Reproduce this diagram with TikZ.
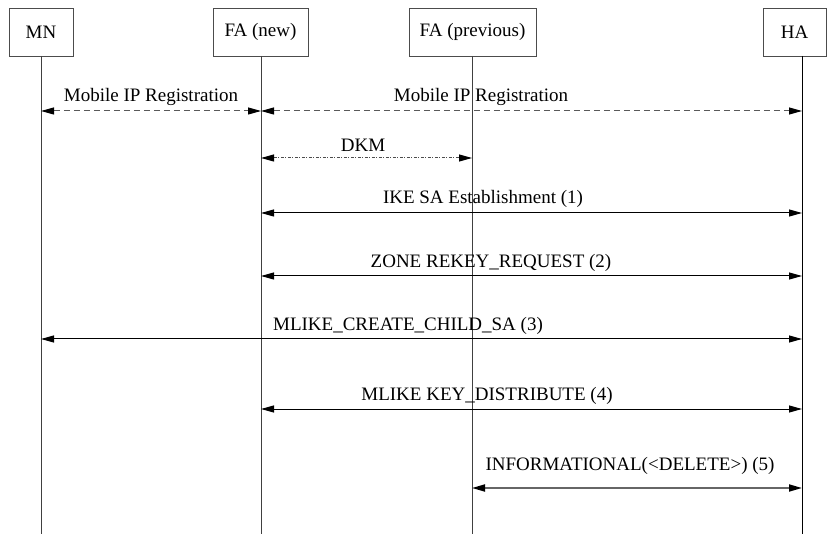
\documentclass[tikz,border=0pt]{standalone}
\usepackage{fontspec}
\setmainfont{Liberation Serif}
\usetikzlibrary{arrows.meta}
\begin{document}
\begin{tikzpicture}[x=1pt,y=-1pt,
  entity/.style={draw=black!70,line width=0.8pt,minimum height=48pt,inner sep=0pt,font=\fontsize{19}{19}\selectfont},
  lifeline/.style={draw=black!75,line width=0.8pt},
  tip/.tip={Triangle[length=13pt,width=7pt,color=black]},
  msg/.style={line width=1pt,tip-tip},
  dashedmsg/.style={msg,draw=black!65,dash pattern=on 6pt off 4pt},
  dkmmsg/.style={msg,draw=black!70,dash pattern=on 3pt off 1.5pt on 1pt off 1.5pt},
  lbl/.style={font=\fontsize{19}{19}\selectfont,inner sep=0pt}]
\useasboundingbox (0,0) rectangle (827,534);

% participants
\node[entity,minimum width=64pt]  (mn)   at (41,32)    {MN};
\node[entity,minimum width=95pt]  (fan)  at (260.5,32) {FA (new)};
\node[entity,minimum width=127pt] (fap)  at (472.5,32) {FA (previous)};
\node[entity,minimum width=63pt]  (ha)   at (794.5,32) {HA};

% lifeline anchors
\coordinate (mnT)  at (41,56);   \coordinate (mnB)  at (41,534);
\coordinate (fanT) at (261,56);  \coordinate (fanB) at (261,534);
\coordinate (fapT) at (472,56);  \coordinate (fapB) at (472,534);
\coordinate (haT)  at (802,56);  \coordinate (haB)  at (802,534);

\draw[lifeline] (mnT) -- (mnB);
\draw[lifeline] (fanT) -- (fanB);
\draw[lifeline] (fapT) -- (fapB);
\draw[lifeline,draw=black] (haT) -- (haB);

% message rows
\coordinate (r1) at (0,111);
\coordinate (r2) at (0,158);
\coordinate (r3) at (0,213);
\coordinate (r4) at (0,276);
\coordinate (r5) at (0,339);
\coordinate (r6) at (0,409);
\coordinate (r7) at (0,488);

\draw[dashedmsg] (mnT |- r1) -- (fanT |- r1);
\draw[dashedmsg] (fanT |- r1) -- (haT |- r1);
\draw[dkmmsg] (fanT |- r2) -- (fapT |- r2);
\draw[msg] (fanT |- r3) -- (haT |- r3);
\draw[msg] (fanT |- r4) -- (haT |- r4);
\draw[msg] (mnT |- r5) -- (haT |- r5);
\draw[msg] (fanT |- r6) -- (haT |- r6);
\draw[msg,draw=black!60,line width=1.8pt] (fapT |- r7) -- (haT |- r7);

% message labels
\node[lbl] (l1) at (151,97)  {Mobile IP Registration};
\node[lbl] (l2) at (481,97)  {Mobile IP Registration};
\node[lbl] (l3) at (363,145) {DKM};
\node[lbl] (l4) at (483,199) {IKE SA Establishment (1)};
\node[lbl] (l5) at (491,263) {ZONE REKEY\_REQUEST (2)};
\node[lbl] (l6) at (408,326) {MLIKE\_CREATE\_CHILD\_SA (3)};
\node[lbl] (l7) at (487,396) {MLIKE KEY\_DISTRIBUTE (4)};
\node[lbl] (l8) at (630,466) {INFORMATIONAL(<DELETE>) (5)};
\end{tikzpicture}
\end{document}
